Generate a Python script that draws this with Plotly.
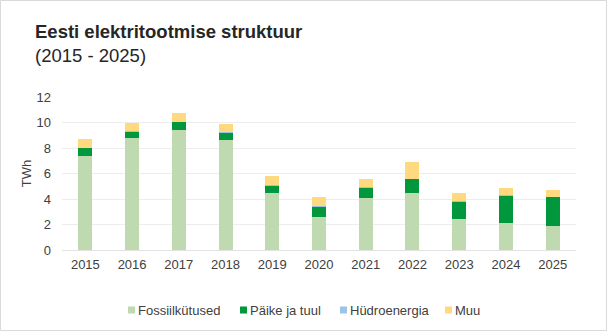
import plotly.graph_objects as go

years = ["2015", "2016", "2017", "2018", "2019", "2020", "2021", "2022", "2023", "2024", "2025"]
fossiil = [7.37, 8.78, 9.41, 8.63, 4.47, 2.59, 4.08, 4.47, 2.43, 2.12, 1.88]
paike_tuul = [0.63, 0.55, 0.63, 0.57, 0.55, 0.86, 0.86, 1.10, 1.41, 2.19, 2.28]
hudro = [0.03, 0.03, 0.03, 0.06, 0.06, 0.03, 0.03, 0.03, 0.03, 0.03, 0.03]
muu = [0.67, 0.60, 0.68, 0.64, 0.72, 0.68, 0.60, 1.30, 0.60, 0.52, 0.51]
y_ticks = [0, 2, 4, 6, 8, 10, 12]

series_names = ["Fossiilkütused", "Päike ja tuul", "Hüdroenergia", "Muu"]
series_values = [fossiil, paike_tuul, hudro, muu]
series_colors = ["#BFDAB0", "#00973D", "#9DC3E6", "#FFD980"]

W, H = 607, 331
L, R, T, B = 62, 31, 97, 81
pw, ph = W - L - R, H - T - B

def px_x(x):
    return (x - L) / pw

def px_y(y):
    return (H - B - y) / ph

fig = go.Figure()
for name, vals, col in zip(series_names, series_values, series_colors):
    fig.add_trace(go.Bar(x=years, y=vals, name=name, marker=dict(color=col, line=dict(width=0)),
                         hovertemplate="%{x}: %{y} TWh<extra>" + name + "</extra>"))

font = "Liberation Sans, Arial, sans-serif"
fig.update_layout(
    width=W, height=H,
    margin=dict(l=L, r=R, t=T, b=B, autoexpand=False),
    barmode="stack", bargap=0.7,
    paper_bgcolor="white", plot_bgcolor="white",
    font=dict(family=font, size=13, color="#404040"),
    title=dict(
        text="<b>Eesti elektritootmise struktuur</b><br><span style='font-weight:normal'>(2015 - 2025)</span>",
        x=35 / W, xref="container", xanchor="left",
        y=1 - 38 / H, yref="container", yanchor="top",
        font=dict(family=font, size=18.5, color="#262626"),
    ),
    xaxis=dict(showgrid=False, showline=False, ticks="", ticklabelstandoff=5,
               tickfont=dict(size=13, color="#404040")),
    yaxis=dict(range=[0, 12], tickvals=y_ticks, showgrid=True, gridcolor="#EDEDED", gridwidth=1,
               zeroline=True, zerolinecolor="#E3E3E3", zerolinewidth=1, showline=False, ticks="",
               ticklabelstandoff=10, tickfont=dict(size=13, color="#404040"),
               title=dict(text="TWh", standoff=1, font=dict(size=13, color="#404040"))),
    showlegend=False,
)

# compact legend (swatch + label), laid out in pixels
legend_swatch_x = [128, 240, 340, 445]
legend_cy = 310
for name, col, sx in zip(series_names, series_colors, legend_swatch_x):
    fig.add_shape(type="rect", xref="paper", yref="paper",
                  x0=px_x(sx), x1=px_x(sx + 7), y0=px_y(legend_cy + 3.5), y1=px_y(legend_cy - 3.5),
                  line=dict(width=0), fillcolor=col)
    fig.add_annotation(xref="paper", yref="paper", x=px_x(sx + 8), y=px_y(legend_cy),
                       xanchor="left", yanchor="middle", showarrow=False, text=name,
                       font=dict(family=font, size=13, color="#404040"))

# light grey frame around the whole chart
fig.add_shape(type="rect", xref="paper", yref="paper",
              x0=px_x(0.5), x1=px_x(W - 0.5), y0=px_y(H - 0.5), y1=px_y(0.5),
              line=dict(color="#D9D9D9", width=1), fillcolor="rgba(0,0,0,0)", layer="below")

fig.write_html("out.html")
